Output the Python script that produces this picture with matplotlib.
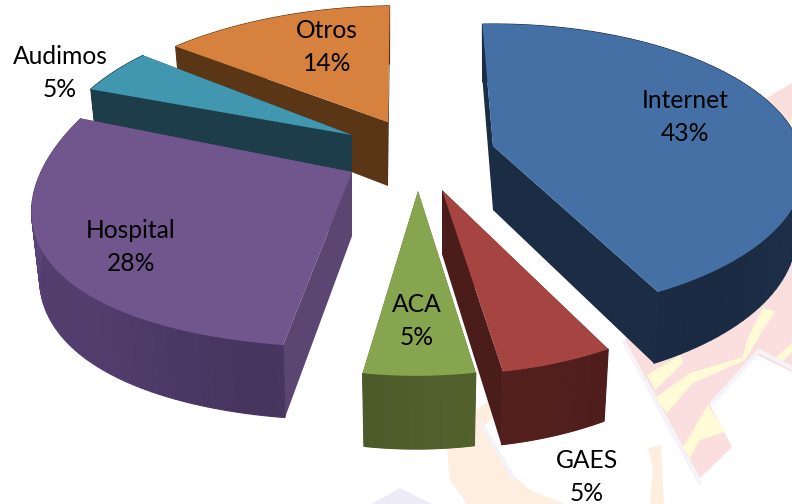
import numpy as np
import matplotlib
matplotlib.use('Agg')
import matplotlib.pyplot as plt

# chart data
categories = ['Internet', 'GAES', 'ACA', 'Hospital', 'Audimos', 'Otros']
shares = [43, 5, 5, 28, 5, 14]

top_colors = ['#4570A6', '#A64442', '#87A44E', '#70568C', '#4197B0', '#D6813D']
wall_colors = ['#1B2C45', '#4A1C1A', '#4F5E2B', '#5B4672', '#1C3D49', '#5A3516']
rim_colors = ['#1B2C45', '#4F1E1C', '#4F5E2B', '#4A3763', '#1C3D49', '#5A3516']

# layout in pixels: slice tip, radii, perspective and lean of each exploded slice
tips = [(493, 146), (442, 190), (418, 191), (352, 172), (352, 135), (388, 122)]
radius_x = [307, 293, 287, 311, 296, 312]
radius_y = [141.4, 146, 146, 165, 148, 140.6]
persp_x = [0.159, 0.21, 0.21, 0.21, 0.21, 0.21]
persp_y = [0.159, 0.21, 0.21, 0.057, 0.21, 0.21]
lean = [0.0, 0.0, -0.0105, -0.062, 0.0, -0.103]
label_pos = [(685, 117), (587, 477), (417, 321), (131, 247), (60, 73), (327, 47)]
draw_order = [5, 0, 4, 3, 1, 2]
start_angle = -2.3


def rim_points(i, thetas):
    u, v = np.sin(thetas), np.cos(thetas)
    dy = -radius_y[i] * v / (1.0 + persp_y[i] * v)
    dx = radius_x[i] * u / (1.0 + persp_x[i] * v) + lean[i] * dy
    return dx, dy


def shade(hex_color, f):
    rgb = np.array(matplotlib.colors.to_rgb(hex_color))
    return tuple(np.clip(rgb * f, 0, 1))


fig = plt.figure(figsize=(7.92, 5.04), dpi=100)
ax = fig.add_axes([0, 0, 1, 1])
ax.set_xlim(0, 792)
ax.set_ylim(504, 0)
ax.axis('off')

# faint watermark behind the chart
pink = '#FBDEDE'
yellow = '#FFFBD6'
orange = '#FEEEE0'
lav = '#ECEBF6'
soft = '#F4F3FA'
ax.fill([625, 700, 732, 710, 757, 792, 792, 640], [340, 478, 447, 405, 355, 372, 250, 300], color=pink, lw=0)
ax.fill([763, 792, 792], [100, 83, 140], color=pink, lw=0)
ax.fill([788, 792, 792], [125, 117, 135], color=yellow, lw=0)
ax.fill([647, 680, 683, 655], [375, 355, 363, 390], color=yellow, lw=0)
ax.fill([655, 690, 743, 747, 763, 775, 763, 745, 693, 667],
        [398, 373, 357, 340, 307, 312, 330, 360, 383, 413], color=yellow, lw=0)
ax.fill([683, 708, 725, 700, 690], [447, 405, 432, 440, 458], color=yellow, lw=0)
ax.fill([773, 792, 792, 782], [360, 343, 352, 362], color=yellow, lw=0)
ax.fill([490, 462, 447, 450, 467, 565, 530, 513, 480, 472, 495],
        [400, 420, 450, 480, 504, 504, 490, 475, 425, 440, 415], color=orange, lw=0)
ax.fill([648, 661, 664, 650, 653], [448, 445, 504, 504, 470], color=orange, lw=0)
ax.fill([372, 400, 432], [504, 488, 504], color=lav, lw=0)
ax.plot([700, 624], [483, 342], color=soft, lw=3, solid_capstyle='round')
ax.plot([712, 759, 792], [403, 351, 368], color=soft, lw=3)
ax.plot([513, 482], [477, 425], color=soft, lw=3)

angles = np.r_[0, np.cumsum(shares)] / sum(shares) * 360 + start_angle
for i in draw_order:
    tx, ty = tips[i]
    thetas = np.radians(np.linspace(angles[i], angles[i + 1], 90))
    dx, dy = rim_points(i, thetas)
    xs, ys = tx + dx, ty + dy
    depth = 64 + 0.05 * dy
    xb = xs - 0.025 * dx
    yb = ys + depth

    # walls: on slices at the back the rim goes behind them, in front it goes over
    wall_z = 3 if np.cos(thetas).mean() > 0 else 1
    layer = draw_order.index(i) * 10
    for e in (0, -1):
        ax.fill([tx, xs[e], xb[e], tx], [ty, ys[e], yb[e], ty + 64], color=wall_colors[i], lw=0,
                zorder=layer + wall_z)
    # outer wall, gently banded and lighter towards the left
    for k in range(len(thetas) - 1):
        left = max(0.0, -np.sin(thetas[k])) ** 3
        c = shade(rim_colors[i], 1.0 + 0.04 * np.sin(thetas[k] * 7) + 0.22 * left)
        ax.fill([xs[k], xs[k + 1], xb[k + 1], xb[k]], [ys[k], ys[k + 1], yb[k + 1], yb[k]],
                facecolor=c, edgecolor=c, lw=0.8, zorder=layer + 2)
    # top face
    ax.fill(np.r_[tx, xs], np.r_[ty, ys], color=top_colors[i], lw=0, zorder=layer + 4)

for name, pct, (lx, ly) in zip(categories, shares, label_pos):
    ax.text(lx, ly, f'{name}\n{pct}%', ha='center', va='center', fontsize=17.7,
            family='Lato', color='black', linespacing=1.55, zorder=100)

fig.savefig('out.png', dpi=100)
